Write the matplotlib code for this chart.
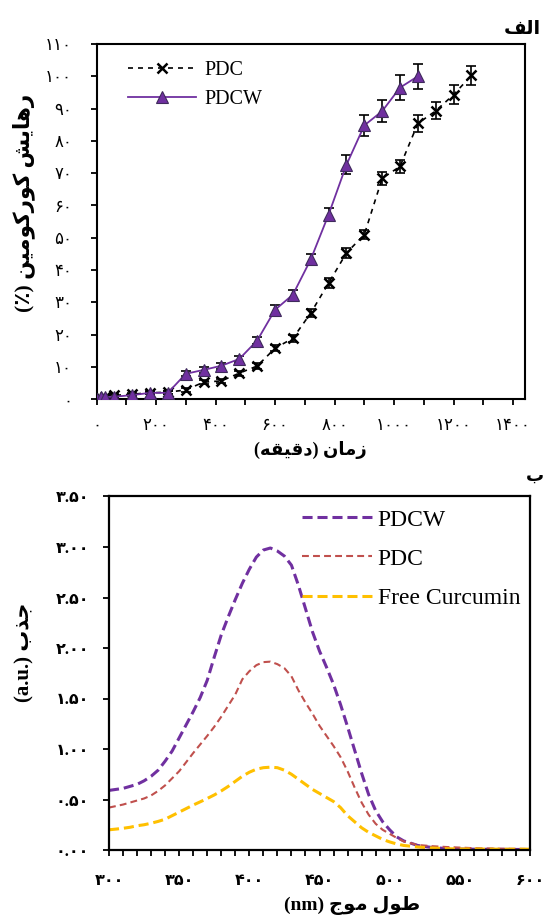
import matplotlib
matplotlib.use("Agg")
import matplotlib.pyplot as plt
from matplotlib.ticker import MultipleLocator, FixedLocator, FuncFormatter

plt.rcParams['font.family'] = ['Liberation Serif', 'DejaVu Sans']

# ---- Curcumin release over time (minutes, cumulative %) ----
time_pdc = [0, 15, 30, 60, 120, 180, 240, 300, 360, 420, 480, 540, 600,
            660, 720, 780, 840, 900, 960, 1020, 1080, 1140, 1200, 1260]
release_pdc = [0, 0.4, 0.8, 1.2, 1.6, 2.0, 2.2, 2.9, 5.3, 5.7, 8.1, 10.3, 15.8,
               18.9, 26.7, 36.0, 45.3, 51.0, 68.4, 72.1, 85.4, 89.3, 94.3, 100.3]
err_pdc = [0.3, 0.3, 0.3, 0.4, 0.4, 0.4, 0.5, 0.6, 0.7, 0.7, 0.8, 0.9, 1.0,
           1.1, 1.3, 1.5, 1.5, 1.5, 2.0, 2.0, 2.6, 2.6, 2.9, 3.0]

time_pdcw = [0, 15, 30, 60, 120, 180, 240, 300, 360, 420, 480, 540, 600,
             660, 720, 780, 840, 900, 960, 1020, 1080]
release_pdcw = [0, 0.6, 0.7, 0.8, 1.3, 2.0, 2.0, 7.9, 9.1, 10.4, 12.5, 18.2, 27.7,
                32.4, 43.3, 57.2, 72.6, 84.8, 89.2, 96.5, 100.0]
err_pdcw = [0.3, 0.3, 0.3, 0.4, 0.4, 0.5, 0.5, 0.8, 0.9, 0.9, 1.0, 1.1, 1.5,
            1.5, 1.8, 2.0, 2.9, 3.2, 3.5, 3.8, 3.9]

# ---- UV-Vis absorbance spectra ----
wavelength = [300, 305, 310, 315, 320, 325, 330, 335, 340, 345,
              350, 355, 360, 365, 370, 375, 380, 385, 390, 395,
              400, 405, 410, 415, 420, 425, 430, 435, 440, 445,
              450, 455, 460, 465, 470, 475, 480, 485, 490, 495,
              500, 505, 510, 520, 530, 540, 550, 560, 580, 600]
abs_pdcw = [0.59, 0.60, 0.61, 0.63, 0.65, 0.685, 0.73, 0.79, 0.88, 0.98,
            1.11, 1.24, 1.37, 1.51, 1.68, 1.91, 2.13, 2.31, 2.48, 2.64,
            2.78, 2.90, 2.97, 2.99, 2.96, 2.91, 2.82, 2.62, 2.39, 2.16,
            1.97, 1.81, 1.64, 1.44, 1.22, 0.99, 0.76, 0.55, 0.39, 0.28,
            0.20, 0.13, 0.09, 0.045, 0.025, 0.015, 0.010, 0.008, 0.006, 0.005]
abs_pdc = [0.42, 0.435, 0.45, 0.47, 0.49, 0.51, 0.54, 0.585, 0.64, 0.71,
           0.78, 0.87, 0.96, 1.045, 1.13, 1.22, 1.32, 1.43, 1.54, 1.69,
           1.77, 1.83, 1.86, 1.865, 1.84, 1.80, 1.72, 1.58, 1.46, 1.35,
           1.23, 1.13, 1.03, 0.92, 0.78, 0.62, 0.47, 0.35, 0.26, 0.20,
           0.16, 0.12, 0.085, 0.05, 0.038, 0.03, 0.024, 0.018, 0.013, 0.010]
abs_free = [0.20, 0.207, 0.215, 0.225, 0.24, 0.25, 0.265, 0.283, 0.305, 0.34,
            0.375, 0.41, 0.445, 0.477, 0.51, 0.545, 0.585, 0.63, 0.68, 0.73,
            0.77, 0.80, 0.815, 0.82, 0.815, 0.79, 0.75, 0.70, 0.65, 0.60,
            0.56, 0.52, 0.48, 0.42, 0.34, 0.28, 0.22, 0.175, 0.14, 0.105,
            0.08, 0.06, 0.045, 0.03, 0.02, 0.013, 0.010, 0.010, 0.008, 0.008]

release_labels = ['PDC', 'PDCW']
spectra_labels = ['PDCW', 'PDC', 'Free Curcumin']

PURPLE = '#7030A0'
RED = '#C0504D'
GOLD = '#FFC000'

# Contextual forms (isolated, final, initial, medial) for the Persian letters used;
# right-joining letters have no initial/medial form.
FORMS = {
    'ا': ('\uFE8D', '\uFE8E', None, None),
    'ب': ('\uFE8F', '\uFE90', '\uFE91', '\uFE92'),
    'ج': ('\uFE9D', '\uFE9E', '\uFE9F', '\uFEA0'),
    'د': ('\uFEA9', '\uFEAA', None, None),
    'ذ': ('\uFEAB', '\uFEAC', None, None),
    'ر': ('\uFEAD', '\uFEAE', None, None),
    'ز': ('\uFEAF', '\uFEB0', None, None),
    'ش': ('\uFEB5', '\uFEB6', '\uFEB7', '\uFEB8'),
    'ط': ('\uFEC1', '\uFEC2', '\uFEC3', '\uFEC4'),
    'ف': ('\uFED1', '\uFED2', '\uFED3', '\uFED4'),
    'ق': ('\uFED5', '\uFED6', '\uFED7', '\uFED8'),
    'ک': ('\uFB8E', '\uFB8F', '\uFB90', '\uFB91'),
    'ل': ('\uFEDD', '\uFEDE', '\uFEDF', '\uFEE0'),
    'م': ('\uFEE1', '\uFEE2', '\uFEE3', '\uFEE4'),
    'ن': ('\uFEE5', '\uFEE6', '\uFEE7', '\uFEE8'),
    'ه': ('\uFEE9', '\uFEEA', '\uFEEB', '\uFEEC'),
    'و': ('\uFEED', '\uFEEE', None, None),
    'ی': ('\uFBFC', '\uFBFD', '\uFBFE', '\uFBFF'),
}


def rtl(text):
    """Shape Persian letters and return them in left-to-right drawing order."""
    out = []
    for i, ch in enumerate(text):
        if ch not in FORMS:
            out.append(ch)
            continue
        prev = text[i - 1] if i > 0 else ''
        nxt = text[i + 1] if i + 1 < len(text) else ''
        joins_prev = prev in FORMS and FORMS[prev][2] is not None
        joins_next = FORMS[ch][2] is not None and nxt in FORMS
        iso, fin, ini, med = FORMS[ch]
        if joins_prev and joins_next:
            out.append(med)
        elif joins_prev:
            out.append(fin)
        elif joins_next:
            out.append(ini)
        else:
            out.append(iso)
    vis = ''.join(reversed(out))
    return vis.translate(str.maketrans({'(': ')', ')': '('}))


FA_DIGITS = str.maketrans('0123456789', '۰۱۲۳۴۵۶۷۸۹')


def fa_int(v, pos=None):
    return format(int(round(v)), 'd').translate(FA_DIGITS)


def fa_dec(v, pos=None):
    return format(v, '.2f').translate(FA_DIGITS)


fig = plt.figure(figsize=(5.45, 9.21), dpi=100)
W, H = 545.0, 921.0

# ---------------- release panel ----------------
ax1 = fig.add_axes([96.5 / W, 1 - 399.3 / H, (525 - 96.5) / W, 355.3 / H])
ax1.errorbar(time_pdc, release_pdc, yerr=err_pdc, fmt='none', ecolor='black',
             elinewidth=1.2, capsize=3.6, capthick=1.2, zorder=2)
ax1.errorbar(time_pdcw, release_pdcw, yerr=err_pdcw, fmt='none', ecolor='black',
             elinewidth=1.2, capsize=3.6, capthick=1.2, zorder=2)
ax1.plot(time_pdc, release_pdc, color='black', lw=1.2, dashes=(3, 3),
         marker='x', ms=7, mew=1.8, mec='black', label=release_labels[0], zorder=3)
ax1.plot(time_pdcw, release_pdcw, color=PURPLE, lw=1.3, marker='^', ms=9,
         mfc=PURPLE, mec='#3F2A5C', mew=0.8, label=release_labels[1], zorder=4)

ax1.set_xlim(0, 1440)
ax1.set_ylim(0, 110)
ax1.xaxis.set_major_locator(FixedLocator(range(0, 1401, 200)))
ax1.xaxis.set_minor_locator(FixedLocator(range(100, 1401, 200)))
ax1.yaxis.set_major_locator(MultipleLocator(10))
ax1.xaxis.set_major_formatter(FuncFormatter(fa_int))
ax1.yaxis.set_major_formatter(FuncFormatter(fa_int))
ax1.tick_params(axis='both', which='both', direction='out', length=4.5, width=1.3,
                labelsize=12)
ax1.tick_params(axis='x', pad=9)
ax1.tick_params(axis='y', pad=13)
for s in ax1.spines.values():
    s.set_linewidth(1.5)

ax1.set_xlabel(rtl('زمان (دقیقه)'), fontsize=13, fontweight='bold', labelpad=5)
ax1.set_ylabel(rtl('رهایش کورکومین (٪)'), fontsize=15.5, fontweight='bold')
ax1.yaxis.set_label_coords(-0.1435, 0.552)

ax1.legend(loc='upper left', bbox_to_anchor=(128 / W, 1 - 61 / H),
           bbox_transform=fig.transFigure, frameon=False, fontsize=14.5,
           handlelength=3.4, handletextpad=0.4, labelspacing=0.5,
           borderpad=0, borderaxespad=0, numpoints=1)

fig.text(541 / W, 1 - 30 / H, rtl('الف'), ha='right', va='center',
         fontsize=14, fontweight='bold')

# ---------------- absorbance panel ----------------
ax2 = fig.add_axes([109 / W, 1 - 850 / H, 421 / W, 353.5 / H])
ax2.plot(wavelength, abs_pdcw, color=PURPLE, lw=2.2, dashes=(3.3, 1.6),
         label=spectra_labels[0])
ax2.plot(wavelength, abs_pdc, color=RED, lw=1.5, dashes=(3.3, 2.0),
         label=spectra_labels[1])
ax2.plot(wavelength, abs_free, color=GOLD, lw=2.2, dashes=(3.3, 1.6),
         label=spectra_labels[2])

ax2.set_xlim(300, 600)
ax2.set_ylim(0, 3.5)
ax2.xaxis.set_major_locator(MultipleLocator(50))
ax2.xaxis.set_minor_locator(MultipleLocator(10))
ax2.yaxis.set_major_locator(MultipleLocator(0.5))
ax2.xaxis.set_major_formatter(FuncFormatter(fa_int))
ax2.yaxis.set_major_formatter(FuncFormatter(fa_dec))
ax2.tick_params(axis='both', which='both', direction='out', length=4.5, width=1.3,
                labelsize=11.5)
ax2.tick_params(axis='x', pad=12)
ax2.tick_params(axis='y', pad=10)
for s in ax2.spines.values():
    s.set_linewidth(1.6)
for lab in ax2.get_xticklabels() + ax2.get_yticklabels():
    lab.set_fontweight('bold')

ax2.set_xlabel('(nm) ' + rtl('طول موج'), fontsize=14, fontweight='bold')
ax2.xaxis.set_label_coords(0.577, -0.13)
ax2.set_ylabel('(a.u.) ' + rtl('جذب'), fontsize=15, fontweight='bold')
ax2.yaxis.set_label_coords(-0.176, 0.56)

ax2.legend(loc='upper left', bbox_to_anchor=(302 / W, 1 - 509 / H),
           bbox_transform=fig.transFigure, frameon=False, fontsize=17,
           handlelength=2.95, handletextpad=0.25, labelspacing=0.75,
           borderpad=0, borderaxespad=0)

fig.text(544 / W, 1 - 476 / H, rtl('ب'), ha='right', va='center',
         fontsize=13, fontweight='bold')

fig.savefig('out.png', dpi=100)
